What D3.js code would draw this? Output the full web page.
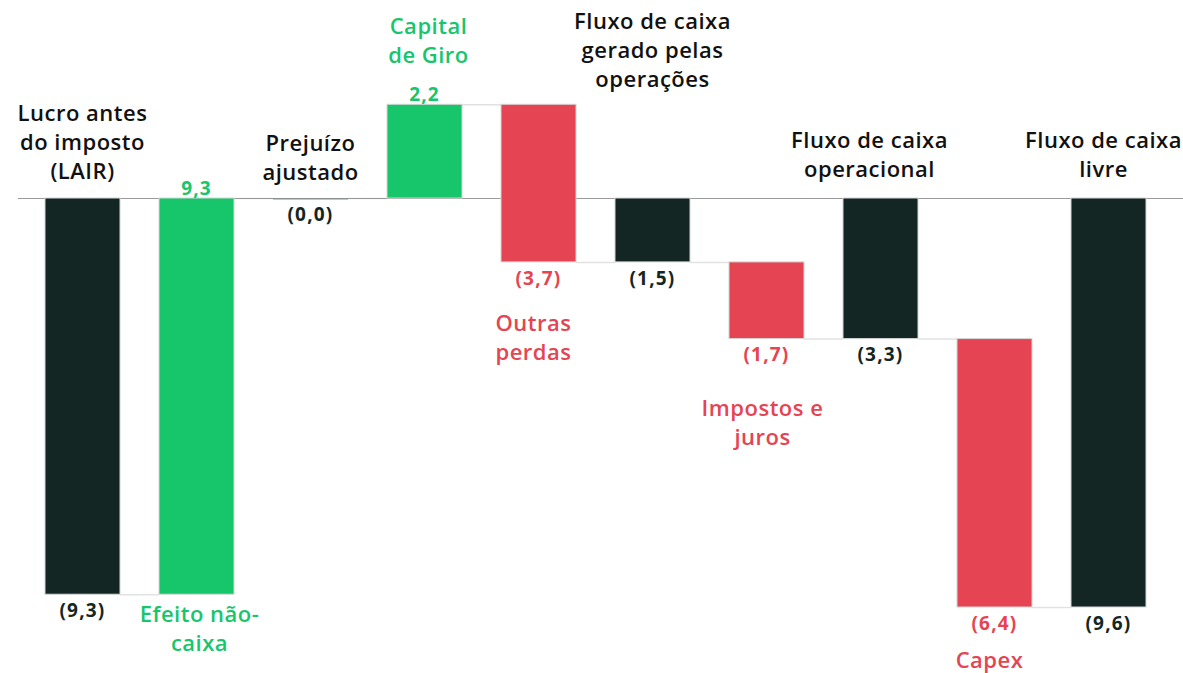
<!DOCTYPE html>
<html>
<head>
<meta charset="utf-8">
<script src="https://cdn.jsdelivr.net/npm/d3@7"></script>
<style>
  html, body { margin: 0; padding: 0; background: #fff; }
  svg { display: block; font-family: "Open Sans", "Lato", sans-serif; }
</style>
</head>
<body>
<div id="chart"></div>
<script>
// categories (multi-line labels)
var categories = [
    ["Lucro antes", "do imposto", "(LAIR)"],
    ["Efeito não-", "caixa"],
    ["Prejuízo", "ajustado"],
    ["Capital", "de Giro"],
    ["Outras", "perdas"],
    ["Fluxo de caixa", "gerado pelas", "operações"],
    ["Impostos e", "juros"],
    ["Fluxo de caixa", "operacional"],
    ["Capex"],
    ["Fluxo de caixa", "livre"]
];
// bar kind: total / up / down
var kinds = ["total", "up", "total", "up", "down", "total", "down", "total", "down", "total"];
// bar levels (start -> end)
var barStart = [0, -9.3, 0, 0, 2.2, 0, -1.5, 0, -3.3, 0];
var barEnd = [-9.3, 0, 0, 2.2, -1.5, -1.5, -3.3, -3.3, -9.6, -9.6];
var valueLabels = ["(9,3)", "9,3", "(0,0)", "2,2", "(3,7)", "(1,5)", "(1,7)", "(3,3)", "(6,4)", "(9,6)"];

// label layout: which side the category label goes, and gap in px
var labelSide = ["above", "below", "above", "above", "below", "above", "below", "above", "below", "above"];
var labelGap = [27, 20, 26, 49, 61, 119, 70, 29, 53, 29];
var labelShift = [0, 3, 0, 4, -5, 0, -4, -11, -5, -5];

var colors = { total: "#142624", up: "#17c66b", down: "#e54452" };
var textColors = { total: "#111", up: "#17c66b", down: "#e54452" };
var valueColors = { total: "#142624", up: "#17c66b", down: "#e54452" };

var width = 1183, height = 673, lineH = 29;

var x = d3.scaleBand()
    .domain(d3.range(categories.length))
    .range([25.5, 1165.5])
    .paddingInner(0.342)
    .paddingOuter(0.171);

var y = d3.scaleLinear()
    .domain([0, -9.6])
    .range([198, 607]);

var svg = d3.select("#chart").append("svg")
    .attr("width", width)
    .attr("height", height);

var data = categories.map(function(c, i) {
    return {
        i: i, lines: c, kind: kinds[i],
        start: barStart[i], end: barEnd[i],
        hi: Math.max(barStart[i], barEnd[i]),
        lo: Math.min(barStart[i], barEnd[i]),
        value: valueLabels[i]
    };
});

// connectors
svg.append("g").selectAll("line")
    .data(data.slice(0, -1))
    .enter().append("line")
    .attr("x1", function(d) { return x(d.i) + x.bandwidth(); })
    .attr("x2", function(d) { return x(d.i + 1); })
    .attr("y1", function(d) { return y(d.end) + 0.5; })
    .attr("y2", function(d) { return y(d.end) + 0.5; })
    .attr("stroke", "#e2e2e2")
    .attr("stroke-width", 1.5);

// baseline
svg.append("line")
    .attr("x1", 18).attr("x2", width)
    .attr("y1", y(0) + 0.5).attr("y2", y(0) + 0.5)
    .attr("stroke", "#9a9a9a")
    .attr("stroke-width", 1.2);

// bars
svg.append("g").selectAll("rect")
    .data(data)
    .enter().append("rect")
    .attr("x", function(d) { return x(d.i); })
    .attr("width", x.bandwidth())
    .attr("y", function(d) { return y(d.hi); })
    .attr("height", function(d) { return Math.max(1.5, y(d.lo) - y(d.hi)); })
    .attr("fill", function(d) { return d.hi === d.lo ? "#8a8f90" : colors[d.kind]; })
    .attr("stroke", "#d6d6d6")
    .attr("stroke-width", function(d) { return d.hi === d.lo ? 0 : 1; });

// value labels
svg.append("g").selectAll("text")
    .data(data)
    .enter().append("text")
    .attr("x", function(d) { return x(d.i) + x.bandwidth() / 2; })
    .attr("y", function(d) {
        return d.kind === "up" ? y(d.hi) - 10 : y(d.lo) + 16;
    })
    .attr("dy", "0.35em")
    .attr("text-anchor", "middle")
    .attr("font-size", 19)
    .attr("font-weight", 700)
    .attr("letter-spacing", 1.2)
    .attr("fill", function(d) { return valueColors[d.kind]; })
    .text(function(d) { return d.value; });

// category labels
var cat = svg.append("g").selectAll("text")
    .data(data)
    .enter().append("text")
    .attr("text-anchor", "middle")
    .attr("font-size", 22)
    .attr("font-weight", 600)
    .attr("letter-spacing", 0.5)
    .attr("fill", function(d) { return textColors[d.kind]; });

cat.each(function(d) {
    var n = d.lines.length;
    var first;
    if (labelSide[d.i] === "above") {
        first = y(d.hi) - labelGap[d.i] - (n - 1) * lineH;
    } else {
        first = y(d.lo) + labelGap[d.i];
    }
    var cx = x(d.i) + x.bandwidth() / 2 + labelShift[d.i];
    d3.select(this).selectAll("tspan")
        .data(d.lines)
        .enter().append("tspan")
        .attr("x", cx)
        .attr("y", function(l, k) { return first + k * lineH; })
        .attr("dy", "0.35em")
        .text(function(l) { return l; });
});
</script>
</body>
</html>
